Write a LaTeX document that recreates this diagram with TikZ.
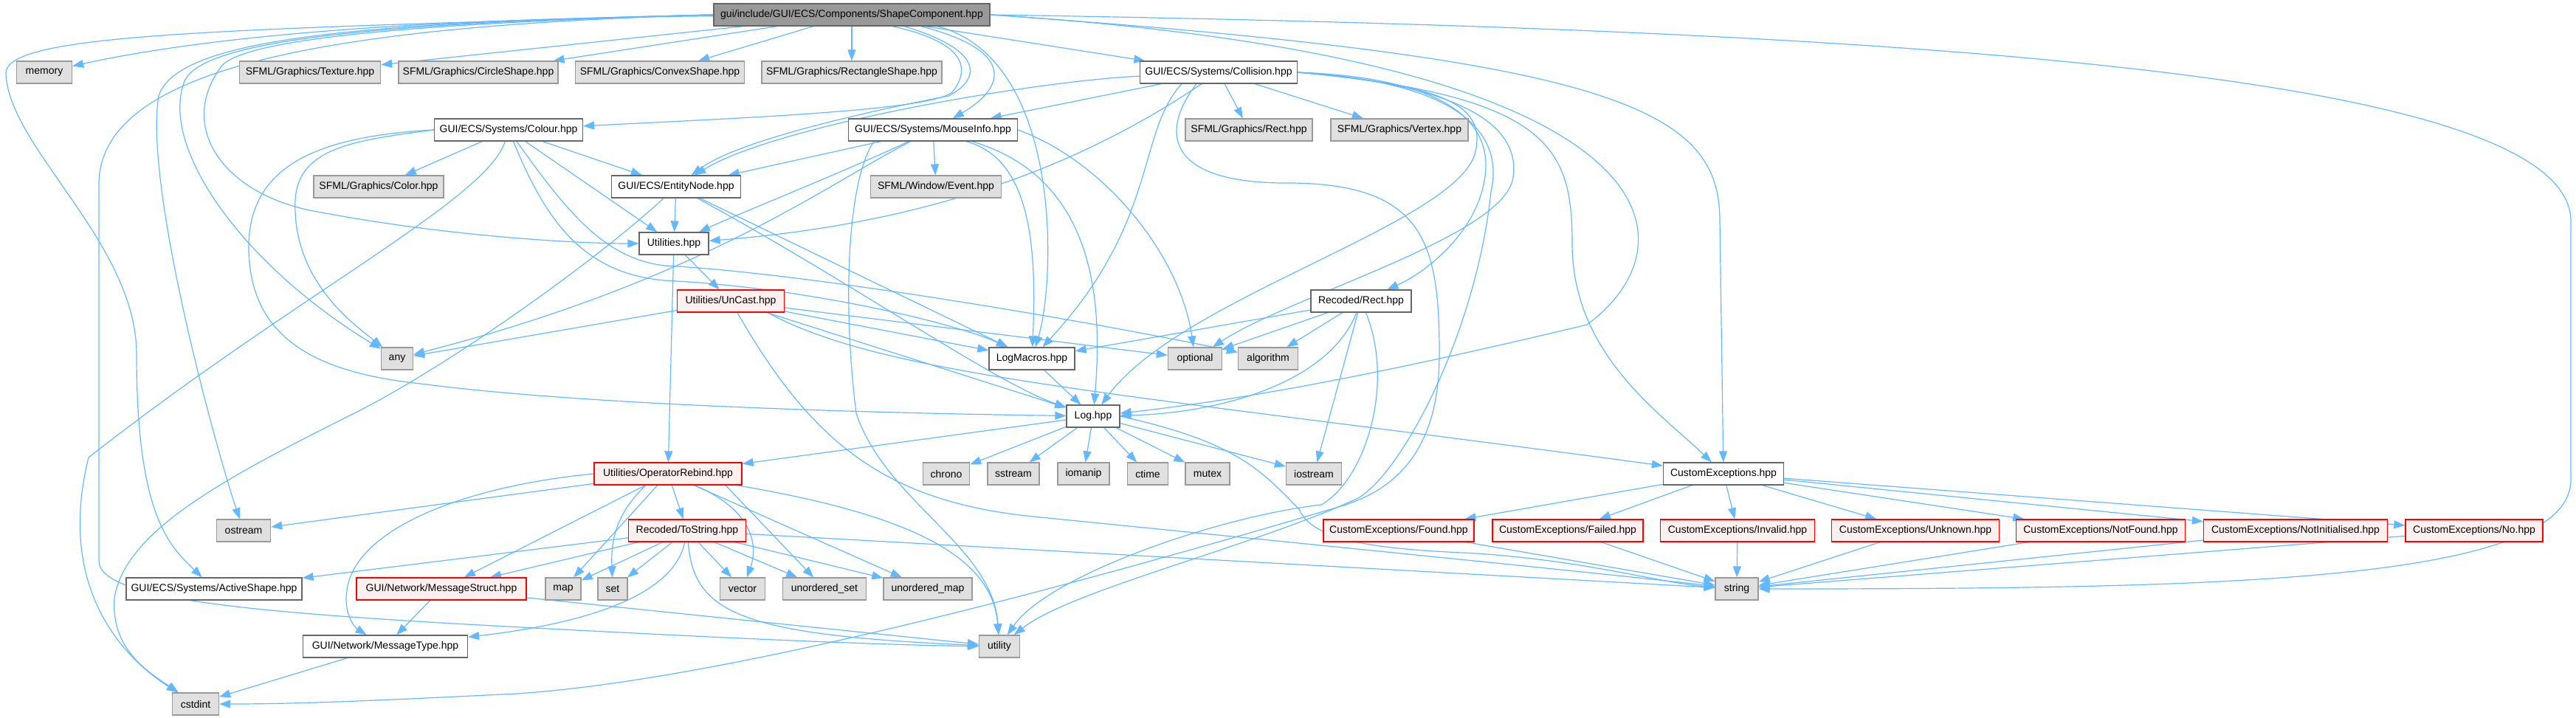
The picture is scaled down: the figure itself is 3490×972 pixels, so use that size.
\documentclass[tikz,border=0pt]{standalone}
\usepackage{fontspec}
\setmainfont{Liberation Sans}
\usepackage{tikz}
\usetikzlibrary{arrows.meta,backgrounds}

\definecolor{edgeblue}{HTML}{63B8FF}
\definecolor{sysfill}{HTML}{E0E0E0}
\definecolor{sysline}{HTML}{999999}
\definecolor{hline}{HTML}{666666}
\definecolor{badfill}{HTML}{FFF0F0}

\begin{document}
\begin{tikzpicture}[x=1pt,y=-1pt,
	hfile/.style={draw=hline,fill=white,line width=1.3pt,minimum height=30pt,inner sep=0pt,font=\fontsize{14}{16}\selectfont},
	sysfile/.style={hfile,draw=sysline,fill=sysfill},
	missing/.style={hfile,draw=red,fill=badfill},
	root/.style={hfile,fill=sysline},
	dep/.style={draw=edgeblue,line width=1.2pt,-{Triangle[length=15pt,width=11pt]}}]
			\useasboundingbox (0,0) rectangle (3490,972);
			% top rows
			\node[root,minimum width=374](t) at (1154,20){gui/include/GUI/ECS/Components/ShapeComponent.hpp};
			\node[sysfile,minimum width=75](memory) at (60,98){memory};
			\node[sysfile,minimum width=191](texture) at (420,98){SFML/Graphics/Texture.hpp};
			\node[sysfile,minimum width=216](circle) at (648,98){SFML/Graphics/CircleShape.hpp};
			\node[sysfile,minimum width=229](convex) at (894,98){SFML/Graphics/ConvexShape.hpp};
			\node[sysfile,minimum width=244](rectshape) at (1154,98){SFML/Graphics/RectangleShape.hpp};
			\node[hfile,minimum width=213](collision) at (1651,98){GUI/ECS/Systems/Collision.hpp};
			\node[hfile,minimum width=201](colour) at (689,176){GUI/ECS/Systems/Colour.hpp};
			\node[hfile,minimum width=229](mouseinfo) at (1264,176){GUI/ECS/Systems/MouseInfo.hpp};
			\node[sysfile,minimum width=172](sfrect) at (1692,176){SFML/Graphics/Rect.hpp};
			\node[sysfile,minimum width=186](vertex) at (1896,176){SFML/Graphics/Vertex.hpp};
			\node[sysfile,minimum width=176](color) at (513,253){SFML/Graphics/Color.hpp};
			\node[hfile,minimum width=175](entity) at (916,253){GUI/ECS/EntityNode.hpp};
			\node[sysfile,minimum width=177](event) at (1268,253){SFML/Window/Event.hpp};
			\node[hfile,minimum width=94](utilities) at (913,330){Utilities.hpp};
			\node[missing,minimum width=145](uncast) at (990,408){Utilities/UnCast.hpp};
			\node[hfile,minimum width=136](recrect) at (1844,408){Recoded/Rect.hpp};
			\node[sysfile,minimum width=43](any) at (538,486){any};
			\node[hfile,minimum width=116](logmacros) at (1398,486){LogMacros.hpp};
			\node[sysfile,minimum width=73](optional) at (1619,486){optional};
			\node[sysfile,minimum width=81](algorithm) at (1718,486){algorithm};
			\node[hfile,minimum width=72](log) at (1481,564){Log.hpp};
			% lower rows
			\node[missing,minimum width=200](oprebind) at (905,642){Utilities/OperatorRebind.hpp};
			\node[sysfile,minimum width=63](chrono) at (1282,642){chrono};
			\node[sysfile,minimum width=70](sstream) at (1373,642){sstream};
			\node[sysfile,minimum width=70](iomanip) at (1468,642){iomanip};
			\node[sysfile,minimum width=55](ctime) at (1555,642){ctime};
			\node[sysfile,minimum width=60](mutex) at (1636,642){mutex};
			\node[sysfile,minimum width=75](iostream) at (1780,642){iostream};
			\node[hfile,minimum width=163](custexc) at (2335,642){CustomExceptions.hpp};
			\node[sysfile,minimum width=73](ostream) at (330,719){ostream};
			\node[missing,minimum width=159](tostring) at (931,719){Recoded/ToString.hpp};
			\node[missing,minimum width=204](found) at (1895,719){CustomExceptions/Found.hpp};
			\node[missing,minimum width=204](failed) at (2124,719){CustomExceptions/Failed.hpp};
			\node[missing,minimum width=209](invalid) at (2354,719){CustomExceptions/Invalid.hpp};
			\node[missing,minimum width=227](unknown) at (2595,719){CustomExceptions/Unknown.hpp};
			\node[missing,minimum width=229](notfound) at (2846,719){CustomExceptions/NotFound.hpp};
			\node[missing,minimum width=249](notinit) at (3110,719){CustomExceptions/NotInitialised.hpp};
			\node[missing,minimum width=186](nohpp) at (3352,719){CustomExceptions/No.hpp};
			\node[hfile,minimum width=238](activeshape) at (290,798){GUI/ECS/Systems/ActiveShape.hpp};
			\node[missing,minimum width=230](msgstruct) at (598,798){GUI/Network/MessageStruct.hpp};
			\node[sysfile,minimum width=48](map) at (763,798){map};
			\node[sysfile,minimum width=40](set) at (830,798){set};
			\node[sysfile,minimum width=61](vector) at (1006,798){vector};
			\node[sysfile,minimum width=113](uset) at (1117,798){unordered\_set};
			\node[sysfile,minimum width=120](umap) at (1257,798){unordered\_map};
			\node[sysfile,minimum width=58](string) at (2353,798){string};
			\node[hfile,minimum width=223](msgtype) at (522,876){GUI/Network/MessageType.hpp};
			\node[sysfile,minimum width=55](utility) at (1354,876){utility};
			\node[sysfile,minimum width=63](cstdint) at (265,954){cstdint};

			\begin{pgfonlayer}{background}
			% ShapeComponent.hpp
			\draw[dep](t) .. controls (600,25) and (300,45) .. (memory);
			\draw[dep](t)--(texture);
			\draw[dep](t)--(circle);
			\draw[dep](t)--(convex);
			\draw[dep](t)--(rectshape);
			\draw[dep](t)--(collision);
			\draw[dep]([xshift=94pt]t.south) .. controls (1380,70) and (1360,120) .. (mouseinfo);
			\draw[dep]([xshift=55pt]t.south) .. controls (1320,60) and (1310,100) .. (1290,125) .. controls (1260,150) and (1000,160) .. (colour);
			\draw[dep]([xshift=71pt]t.south) .. controls (1340,70) and (1325,110) .. (1285,130) .. controls (1180,150) and (1000,190) .. (entity);
			\draw[dep]([xshift=116pt]t.south) .. controls (1440,80) and (1430,380) .. (logmacros);
			\draw[dep](t.east) .. controls (2280,80) and (2300,330) .. (2150,440) .. controls (1900,500) and (1700,540) .. (log);
			\draw[dep](t.east) .. controls (2200,80) and (2330,150) .. (2330,300)--(custexc);
			\draw[dep](t.east) .. controls (2600,40) and (3483,100) .. (3483,300)--(3483,650) .. controls (3483,790) and (3000,798) .. (string);
			\draw[dep](t.west) .. controls (600,30) and (330,50) .. (300,90) .. controls (240,170) and (300,260) .. (420,285) .. controls (600,320) and (780,330) .. (utilities.west);
			\draw[dep](t.west) .. controls (550,30) and (275,50) .. (250,110) .. controls (215,200) and (330,360) .. (any);
			\draw[dep](t.west) .. controls (500,30) and (240,50) .. (215,130) .. controls (195,250) and (290,600) .. (ostream);
			\draw[dep](t.west) .. controls (300,40) and (5,45) .. (8,100) .. controls (12,200) and (185,330) .. (185,480) .. controls (185,700) and (230,740) .. (activeshape);
			\draw[dep](t.west) .. controls (450,35) and (134,90) .. (134,250)--(134,760) .. controls (134,820) and (400,835) .. (900,860) .. controls (1100,870) and (1250,875) .. (utility);

			% Collision.hpp
			\draw[dep](collision) .. controls (1400,110) and (1050,170) .. (entity);
			\draw[dep](collision)--(mouseinfo);
			\draw[dep](collision) .. controls (1500,200) and (1300,300) .. (utilities);
			\draw[dep](collision)--(sfrect);
			\draw[dep](collision)--(vertex);
			\draw[dep]([xshift=-50pt]collision.south) .. controls (1540,180) and (1570,300) .. (logmacros);
			\draw[dep](collision.east) .. controls (1950,115) and (2010,140) .. (2000,200) .. controls (1990,300) and (1600,400) .. (log);
			\draw[dep](collision.east) .. controls (1980,115) and (2060,170) .. (2050,240) .. controls (2040,320) and (1750,400) .. (optional);
			\draw[dep](collision.east) .. controls (1950,105) and (2030,160) .. (2010,250) .. controls (1995,320) and (1930,370) .. (recrect);
			\draw[dep](collision.east) .. controls (2100,130) and (2130,200) .. (2130,330) .. controls (2130,480) and (2250,560) .. (custexc);
			\draw[dep](collision.east) .. controls (1960,110) and (2040,170) .. (2020,260) .. controls (2000,450) and (1900,640) .. (1840,675) .. controls (1700,740) and (1450,800) .. (utility);
			\draw[dep]([xshift=-30pt]collision.south) .. controls (1570,180) and (1580,250) .. (1750,248) .. controls (1930,250) and (1950,330) .. (1950,480) .. controls (1950,600) and (1900,660) .. (1820,685) .. controls (1500,780) and (1000,920) .. (700,940) .. controls (500,950) and (400,954) .. (cstdint);

			% MouseInfo.hpp
			\draw[dep](mouseinfo)--(event);
			\draw[dep](mouseinfo)--(entity);
			\draw[dep](mouseinfo) .. controls (1150,230) and (1000,290) .. (utilities);
			\draw[dep](mouseinfo) .. controls (1120,250) and (950,380) .. (any);
			\draw[dep]([xshift=45pt]mouseinfo.south) .. controls (1395,215) and (1405,330) .. (logmacros);
			\draw[dep](mouseinfo) .. controls (1480,240) and (1495,400) .. (log);
			\draw[dep](mouseinfo.east) .. controls (1500,220) and (1600,350) .. (optional);
			\draw[dep]([xshift=-80pt]mouseinfo.south) .. controls (1150,240) and (1140,400) .. (1160,560) .. controls (1200,680) and (1345,740) .. (utility);

			% Colour.hpp
			\draw[dep](colour)--(color);
			\draw[dep](colour)--(entity);
			\draw[dep](colour)--(utilities);
			\draw[dep](colour.west) .. controls (480,190) and (405,200) .. (400,270) .. controls (395,380) and (480,440) .. (any);
			\draw[dep](colour.west) .. controls (420,185) and (340,230) .. (337,330) .. controls (335,460) and (430,505) .. (570,520) .. controls (800,550) and (1200,560) .. (log);
			\draw[dep](colour) .. controls (660,270) and (400,400) .. (120,620) .. controls (80,780) and (150,880) .. (cstdint);
			\draw[dep](colour) .. controls (740,300) and (790,370) .. (900,380) .. controls (1100,390) and (1300,440) .. (logmacros);
			\draw[dep](colour) .. controls (770,290) and (820,350) .. (900,360) .. controls (1100,370) and (1500,440) .. (algorithm);

			% EntityNode.hpp
			\draw[dep](entity)--(utilities);
			\draw[dep](entity)--(logmacros);
			\draw[dep](entity) .. controls (1150,380) and (1350,520) .. (log);
			\draw[dep](entity) .. controls (800,360) and (600,500) .. (480,560) .. controls (300,650) and (170,720) .. (155,810) .. controls (150,880) and (200,910) .. (cstdint);

			% Utilities.hpp, UnCast.hpp
			\draw[dep](utilities)--(uncast);
			\draw[dep](utilities)--(oprebind);
			\draw[dep](uncast)--(any);
			\draw[dep](uncast)--(logmacros);
			\draw[dep](uncast)--(optional);
			\draw[dep](uncast)--(log);
			\draw[dep]([xshift=50pt]uncast.south) .. controls (1200,510) and (1500,530) .. (custexc);
			\draw[dep](uncast) .. controls (1100,600) and (1200,680) .. (1400,700) .. controls (1800,740) and (2200,780) .. (string);

			% Rect.hpp, LogMacros.hpp, Log.hpp
			\draw[dep](recrect)--(logmacros);
			\draw[dep](recrect)--(optional);
			\draw[dep](recrect)--(algorithm);
			\draw[dep](recrect)--(iostream);
			\draw[dep](recrect) .. controls (1800,520) and (1650,560) .. (log);
			\draw[dep](recrect) .. controls (1890,520) and (1850,650) .. (1790,684) .. controls (1650,700) and (1420,780) .. (utility);
			\draw[dep](logmacros)--(log);
			\draw[dep](log)--(oprebind);
			\draw[dep](log)--(chrono);
			\draw[dep](log)--(sstream);
			\draw[dep](log)--(iomanip);
			\draw[dep](log)--(ctime);
			\draw[dep](log)--(mutex);
			\draw[dep](log)--(iostream);
			\draw[dep](log.east) .. controls (1680,600) and (1710,640) .. (1760,690) .. controls (1780,740) and (1900,745) .. (2000,750) .. controls (2150,760) and (2250,790) .. (string);

			% OperatorRebind.hpp, ToString.hpp
			\draw[dep](oprebind)--(ostream);
			\draw[dep](oprebind)--(tostring);
			\draw[dep](oprebind)--(msgstruct);
			\draw[dep](oprebind)--(map);
			\draw[dep]([xshift=-30pt]oprebind.south) .. controls (830,700) and (828,740) .. (set);
			\draw[dep](oprebind) .. controls (1040,700) and (1020,760) .. (vector);
			\draw[dep]([xshift=78pt]oprebind.south)--(uset);
			\draw[dep](oprebind)--(umap);
			\draw[dep](oprebind.west) .. controls (620,660) and (480,720) .. (470,800) .. controls (465,830) and (480,850) .. (msgtype);
			\draw[dep](oprebind) .. controls (1250,700) and (1345,760) .. (utility);
			\draw[dep](tostring)--(activeshape);
			\draw[dep](tostring)--(msgstruct);
			\draw[dep](tostring)--(map);
			\draw[dep](tostring)--(set);
			\draw[dep](tostring)--(vector);
			\draw[dep](tostring)--(uset);
			\draw[dep](tostring)--(umap);
			\draw[dep](tostring) .. controls (910,820) and (750,850) .. (msgtype);
			\draw[dep](tostring) .. controls (940,830) and (1000,860) .. (utility);
			\draw[dep](tostring)--(string);
			\draw[dep](msgstruct)--(msgtype);
			\draw[dep](msgstruct)--(utility);
			\draw[dep](msgtype)--(cstdint);

			% CustomExceptions.hpp
			\foreach \ce in {found,failed,invalid,unknown,notfound,notinit,nohpp}{
				\draw[dep](custexc)--(\ce);
				\draw[dep](\ce)--(string);
			}
			\end{pgfonlayer}
\end{tikzpicture}
\end{document}
